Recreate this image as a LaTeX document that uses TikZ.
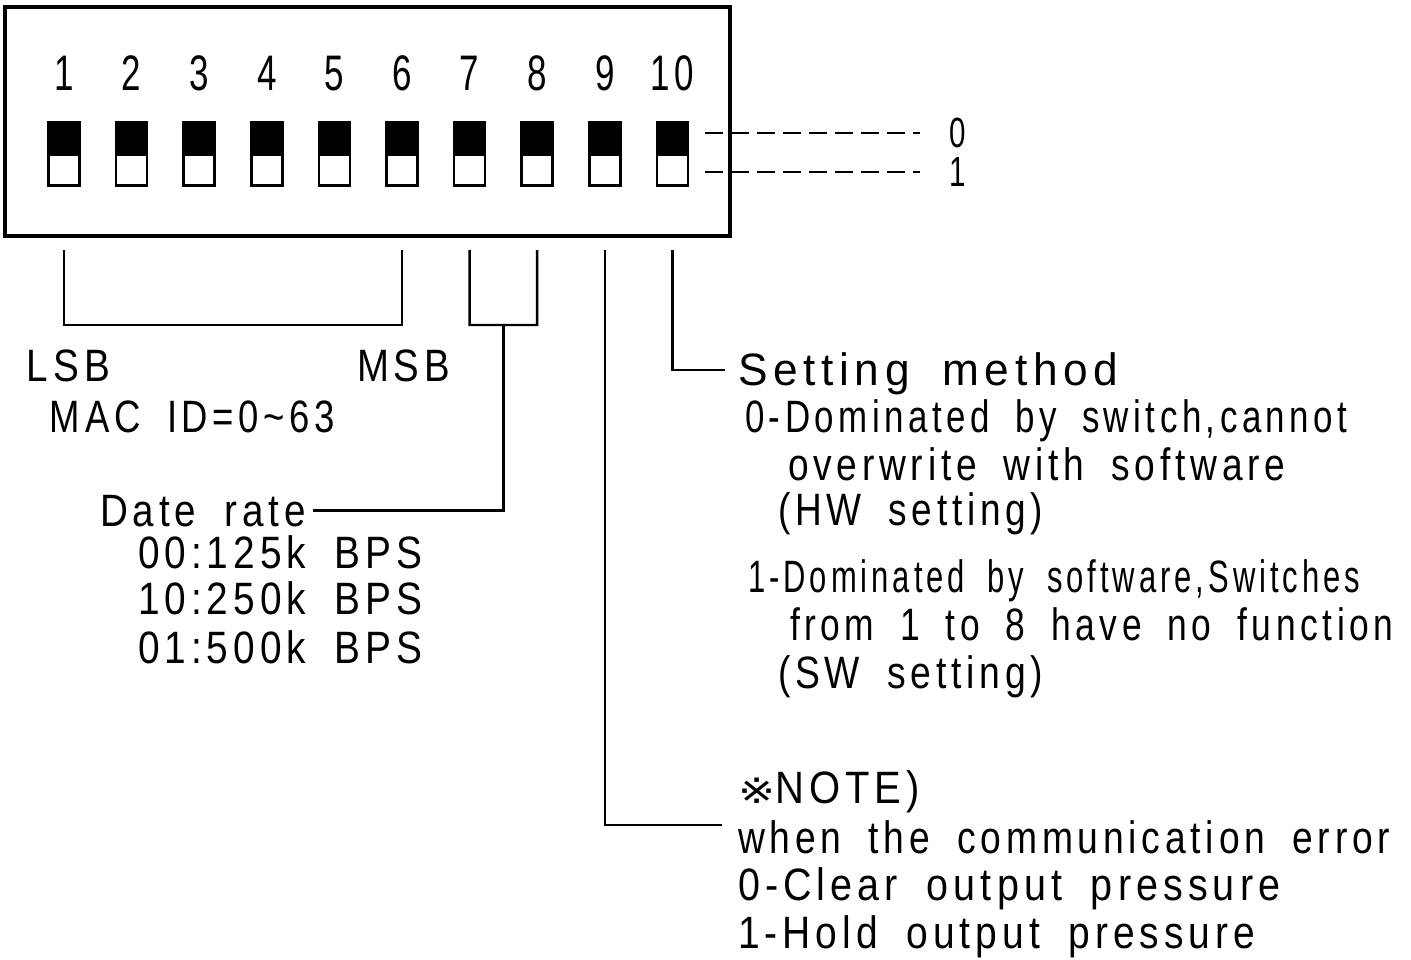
\documentclass[tikz,border=0pt]{standalone}
\usepackage{fontspec}
\setmainfont[FakeStretch=0.70,LetterSpace=9,WordSpace=1.8]{Liberation Sans}
\newfontfamily\symfont{DejaVu Sans}
\usepackage{graphicx}
\newcommand\fitw[2]{\resizebox{#1}{\height}{#2}}
\begin{document}
\begin{tikzpicture}[x=0.01cm,y=-0.01cm,line width=0.7pt,
  txt/.style={anchor=base west,inner sep=0pt,outer sep=0pt,font=\fontsize{12.9}{15}\selectfont},
  num/.style={anchor=base,inner sep=0pt,font=\fontsize{14.2}{16}\selectfont},
  lvl/.style={anchor=center,inner sep=0pt,font=\fontsize{12}{14}\selectfont},
  lead/.style={dash pattern=on 5pt off 2.4pt}]
\useasboundingbox (0,0) rectangle (1411,960);
% housing
\draw[line width=0.9pt] (5,7) rectangle (730,236);
% switches and numbers
\foreach \i in {1,...,10}{
  \pgfmathsetmacro\cx{64+67.6*(\i-1)}
  \node[num] (d\i) at (\cx,90) {\i};
  \fill (\cx-15.5,122.7) rectangle (\cx+15.5,155.5);
  \draw (\cx-15.5,122.7) rectangle (\cx+15.5,185.7);
  \coordinate (s\i) at (\cx,250);
}
% level leaders
\node[lvl] (l0) at (958,133) {0};
\node[lvl] (l1) at (958,172) {1};
\draw[lead] (705,133) -- ([xshift=-8pt]l0.west);
\draw[lead] (705,172) -- ([xshift=-8pt]l1.west);
% brackets
\draw (s1) -- (64,325) -- (402,325) -- (s6);
\draw (s7) -- (469.6,325) -- (537.2,325) -- (s8);
% texts left
\node[txt] (lsb) at (27,381) {\fitw{0.83cm}{LSB}};
\node[txt] (msb) at (357,381) {\fitw{0.93cm}{MSB}};
\node[txt] (mac) at (50,432) {\fitw{2.85cm}{MAC ID=0\textasciitilde63}};
\node[txt] (dr) at (100,526) {\fitw{2.06cm}{Date rate}};
\node[txt] (r1) at (138,568) {\fitw{2.84cm}{00:125k BPS}};
\node[txt] (r2) at (138,614) {\fitw{2.84cm}{10:250k BPS}};
\node[txt] (r3) at (138,663) {\fitw{2.84cm}{01:500k BPS}};
\coordinate (drm) at (503.4,325);
\draw (drm) |- ([xshift=2pt]dr.east);
% texts right
\node[txt] (sm) at (738,385) {\fitw{3.80cm}{Setting method}};
\node[txt] (a1) at (745,432) {\fitw{6.02cm}{0-Dominated by switch,cannot}};
\node[txt] (a2) at (788,480) {\fitw{4.97cm}{overwrite with software}};
\node[txt] (a3) at (778,525) {\fitw{2.65cm}{(HW setting)}};
\node[txt] (b1) at (748,592) {\fitw{6.12cm}{1-Dominated by software,Switches}};
\node[txt] (b2) at (790,640) {\fitw{6.03cm}{from 1 to 8 have no function}};
\node[txt] (b3) at (778,688) {\fitw{2.65cm}{(SW setting)}};
\coordinate (smend) at (725,370);
\draw (s10) |- (smend);
\node[txt] (nt) at (738,803) {\fitw{1.82cm}{{\symfont\fontsize{10}{12}\selectfont ※}NOTE)}};
\node[txt] (n1) at (738,853) {\fitw{6.52cm}{when the communication error}};
\node[txt] (n2) at (738,900) {\fitw{5.42cm}{0-Clear output pressure}};
\node[txt] (n3) at (738,948) {\fitw{5.17cm}{1-Hold output pressure}};
\coordinate (ntend) at (722,825);
\draw (s9) |- (ntend);
\end{tikzpicture}
\end{document}
